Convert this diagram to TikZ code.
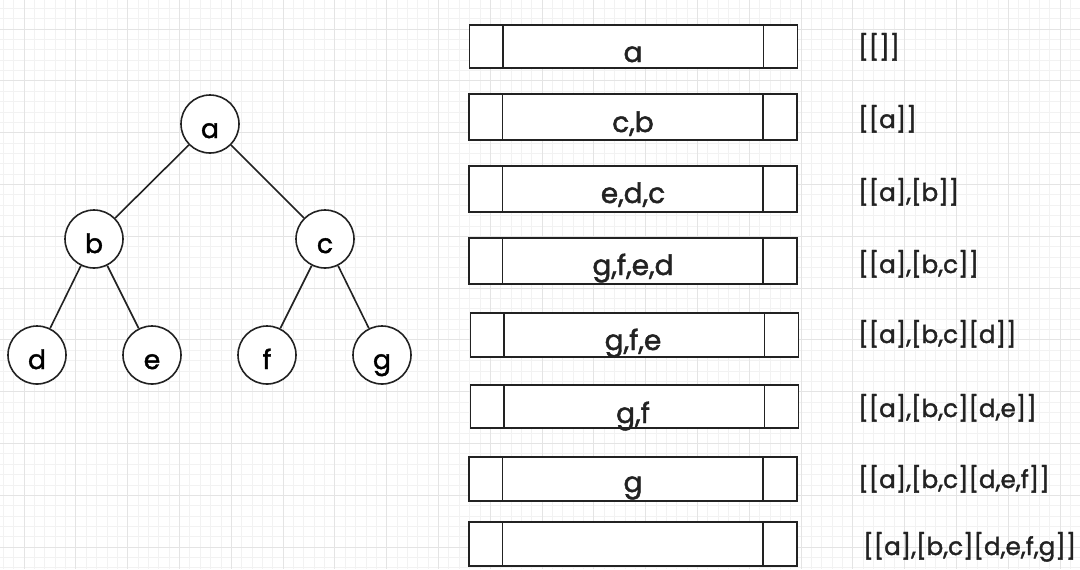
\documentclass[tikz,border=0pt]{standalone}
\usepackage{fontspec}
\setmainfont{Poppins}
\newfontfamily\handfont{Poppins}[FakeBold=1.6]
\definecolor{ink}{HTML}{222222}
\definecolor{gridmajor}{HTML}{E4E4E4}
\definecolor{gridminor}{HTML}{F2F2F2}
\begin{document}
\begin{tikzpicture}[x=0.75pt,y=-0.75pt,
  tnode/.style={circle,draw=ink,line width=1.2pt,fill=white,minimum size=43.5pt,inner sep=0pt,
    font=\handfont\fontsize{20}{24}\selectfont,text height=21pt,text depth=0pt},
  tedge/.style={draw=ink,line width=1.2pt},
  qbox/.style={draw=ink,line width=1.2pt,fill=white,minimum width=246pt,inner sep=0pt,
    path picture={
      \draw[ink,line width=1.2pt] ([xshift=25pt]path picture bounding box.north west) -- ([xshift=25pt]path picture bounding box.south west);
      \draw[ink,line width=1.2pt] ([xshift=-25.5pt]path picture bounding box.north east) -- ([xshift=-25.5pt]path picture bounding box.south east);}},
  qtext/.style={anchor=base,inner sep=0pt,text=ink,font=\handfont\fontsize{21}{25}\selectfont},
  rtext/.style={anchor=base west,inner sep=0pt,text=ink,font=\handfont\fontsize{18.5}{22}\selectfont}]
\useasboundingbox (0,0) rectangle (1080,569);
\fill[white] (0,0) rectangle (1080,569);
\begin{scope}
\clip (0,0) rectangle (1080,569);
\foreach \i in {-5,...,105} {
  \draw[gridminor,line width=0.5pt] ({24+10.36*\i},0) -- ({24+10.36*\i},569);
}
\foreach \i in {-5,...,55} {
  \draw[gridminor,line width=0.5pt] (0,{29+10.36*\i}) -- (1080,{29+10.36*\i});
}
\foreach \i in {-1,...,21} {
  \draw[gridmajor,line width=0.7pt] ({24+51.8*\i},0) -- ({24+51.8*\i},569);
}
\foreach \i in {-1,...,11} {
  \draw[gridmajor,line width=0.7pt] (0,{29+51.8*\i}) -- (1080,{29+51.8*\i});
}
\end{scope}

% tree
\node[tnode] (a) at (210,124) {a};
\node[tnode] (b) at (94,239) {b};
\node[tnode] (c) at (325,239) {c};
\node[tnode] (d) at (37,355) {d};
\node[tnode] (e) at (152,355) {e};
\node[tnode] (f) at (267,355) {f};
\node[tnode] (g) at (382,355) {g};
\draw[tedge] (a) -- (b);
\draw[tedge] (a) -- (c);
\draw[tedge] (b) -- (d);
\draw[tedge] (b) -- (e);
\draw[tedge] (c) -- (f);
\draw[tedge] (c) -- (g);

% queue boxes
\node[qbox,minimum height=32.25pt] (q1) at (633.5,46.5) {};
\node[qbox,minimum height=34.5pt] (q2) at (633,117) {};
\node[qbox,minimum height=34.5pt] (q3) at (633,189) {};
\node[qbox,minimum height=34.5pt] (q4) at (633,261) {};
\node[qbox,minimum height=33pt] (q5) at (634.5,335) {};
\node[qbox,minimum height=32.25pt] (q6) at (634.5,406.5) {};
\node[qbox,minimum height=33pt] (q7) at (633,479) {};
\node[qbox,minimum height=33pt] (q8) at (633,544) {};

\node[qtext] (t1) at (633,62) {a};
\node[qtext] (t2) at (633,132) {c,b};
\node[qtext] (t3) at (633,203) {e,d,c};
\node[qtext] (t4) at (633,275) {g,f,e,d};
\node[qtext] (t5) at (633,350) {g,f,e};
\node[qtext] (t6) at (633,423) {g,f};
\node[qtext] (t7) at (633,492) {g};

% result labels
\node[rtext] (r1) at (858,56) {[[]]};
\node[rtext] (r2) at (858,128) {[[a]]};
\node[rtext] (r3) at (858,201) {[[a],[b]]};
\node[rtext] (r4) at (858,273) {[[a],[b,c]]};
\node[rtext] (r5) at (858,343) {[[a],[b,c][d]]};
\node[rtext] (r6) at (858,417) {[[a],[b,c][d,e]]};
\node[rtext] (r7) at (858,488) {[[a],[b,c][d,e,f]]};
\node[rtext] (r8) at (863,555) {[[a],[b,c][d,e,f,g]]};
\end{tikzpicture}
\end{document}
